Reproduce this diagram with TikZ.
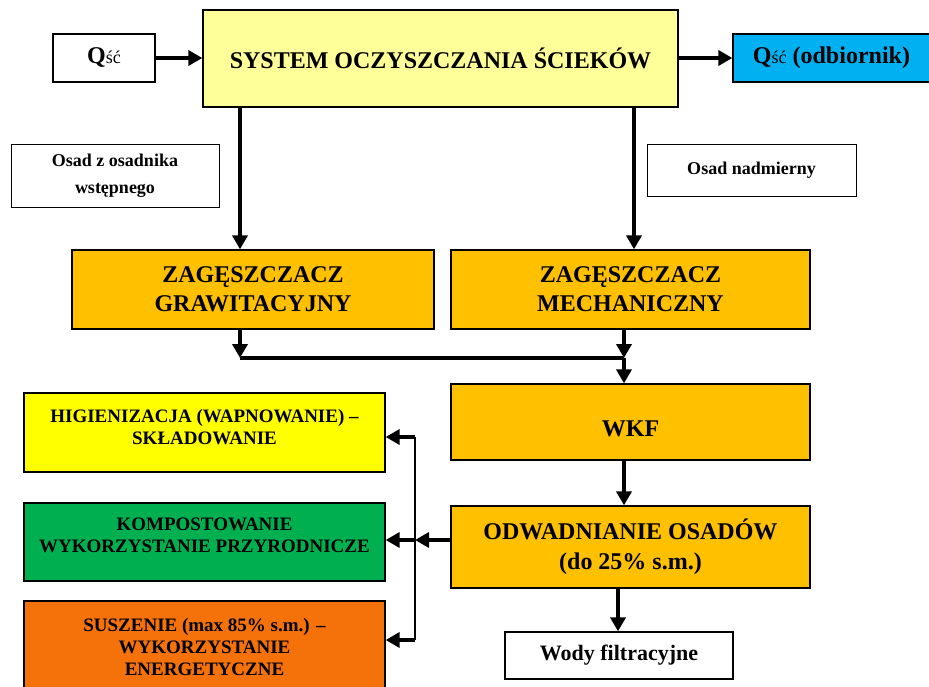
\documentclass[tikz,border=0pt]{standalone}
\usepackage{fontspec}
\setmainfont{Liberation Serif}
\usetikzlibrary{arrows.meta}

\definecolor{jasnozolty}{RGB}{255,255,153}
\definecolor{niebieski}{RGB}{0,176,240}
\definecolor{pomaranczowy}{RGB}{255,192,0}
\definecolor{zolty}{RGB}{255,255,0}
\definecolor{zielony}{RGB}{0,176,80}
\definecolor{ceglany}{RGB}{245,113,9}

\begin{document}
\begin{tikzpicture}[x=1pt,y=1pt,yscale=-1,xscale=1,
    box/.style={draw,line width=1.3,inner sep=0,align=center,font=\bfseries},
    duzy/.style={font={\fontsize{24}{29}\selectfont\bfseries}},
    maly/.style={font={\fontsize{19}{22}\selectfont\bfseries}},
    arr/.style={line width=3.6,-{Triangle[length=14,width=15]}}]
        \useasboundingbox (0,0) rectangle (929,687);

        % top row
        \node[box,duzy,minimum width=102,minimum height=48] (qin) at (104,58) {Q\textmd{\fontsize{18}{18}\selectfont ść}};
        \node[box,duzy,fill=jasnozolty,minimum width=475,minimum height=97] (sys) at (440.5,58.5) {SYSTEM OCZYSZCZANIA ŚCIEKÓW};
        \node[box,duzy,fill=niebieski,minimum width=197,minimum height=48] (qout) at (831.5,58) {Q\textmd{\fontsize{18}{18}\selectfont ść} (odbiornik)};

        % osady
        \node[box,maly,font={\fontsize{18}{27}\selectfont\bfseries},line width=0.8,minimum width=208,minimum height=63] (osadw) at (115,175.5) {Osad z osadnika\\wstępnego};
        \node[box,maly,font={\fontsize{18}{27}\selectfont\bfseries},line width=0.8,minimum width=209,minimum height=52] (osadn) at (751.5,170) {Osad nadmierny};

        % zageszczacze
        \node[box,duzy,fill=pomaranczowy,minimum width=362,minimum height=79] (zgrav) at (253,289.5) {ZAGĘSZCZACZ\\GRAWITACYJNY};
        \node[box,duzy,fill=pomaranczowy,minimum width=359,minimum height=79] (zmech) at (630.5,289.5) {ZAGĘSZCZACZ\\MECHANICZNY};

        % WKF i odwadnianie
        \node[box,duzy,fill=pomaranczowy,minimum width=359,minimum height=76] (wkf) at (630.5,422) {\mbox{}\\WKF};
        \node[box,duzy,font={\fontsize{24}{30}\selectfont\bfseries},fill=pomaranczowy,minimum width=359,minimum height=82] (odw) at (630.5,547) {ODWADNIANIE OSADÓW\\(do 25\% s.m.)};
        \node[box,duzy,font={\fontsize{22}{26}\selectfont\bfseries},minimum width=228,minimum height=47] (wody) at (619,655.5) {Wody filtracyjne};

        % kierunki
        \node[box,maly,fill=zolty,text depth=12,minimum width=361,minimum height=79] (higien) at (204.5,432.5) {HIGIENIZACJA (WAPNOWANIE) –\\SKŁADOWANIE};
        \node[box,maly,fill=zielony,text depth=14,minimum width=361,minimum height=78] (kompost) at (204.5,542) {KOMPOSTOWANIE\\WYKORZYSTANIE PRZYRODNICZE};
        \node[box,maly,fill=ceglany,minimum width=361,minimum height=91] (susz) at (204.5,646.5) {SUSZENIE (max 85\% s.m.) –\\WYKORZYSTANIE\\ENERGETYCZNE};

        \coordinate (xg) at (240,0);
        \coordinate (xm) at (634,0);
        \coordinate (j) at (624,358);
        \coordinate (xo) at (618,0);
        \coordinate (d1) at (415,437);
        \coordinate (d2) at (415,540);
        \coordinate (d3) at (415,640);

        % polaczenia
        \draw[arr] (qin.east) -- (qin.east -| sys.west);
        \draw[arr] (sys.east |- qout.west) -- (qout.west);
        \draw[arr] (sys.south -| xg) -- (zgrav.north -| xg);
        \draw[arr] (sys.south -| xm) -- (zmech.north -| xm);
        \draw[arr] (zgrav.south -| xg) -- (j -| xg);
        \draw[arr] (zmech.south -| j) -- (j);
        \draw[line width=3.6] (j -| xg) -- (j);
        \draw[arr] (j) -- (wkf.north -| j);
        \draw[arr] (wkf.south -| j) -- (odw.north -| j);
        \draw[arr] (odw.south -| xo) -- (wody.north -| xo);
        \draw[line width=2.2] (d1) -- (d3);
        \draw[arr] (odw.west |- d2) -- (d2);
        \draw[arr] (d1) -- (higien.east |- d1);
        \draw[arr] (d2) -- (kompost.east |- d2);
        \draw[arr] (d3) -- (susz.east |- d3);

\end{tikzpicture}
\end{document}
